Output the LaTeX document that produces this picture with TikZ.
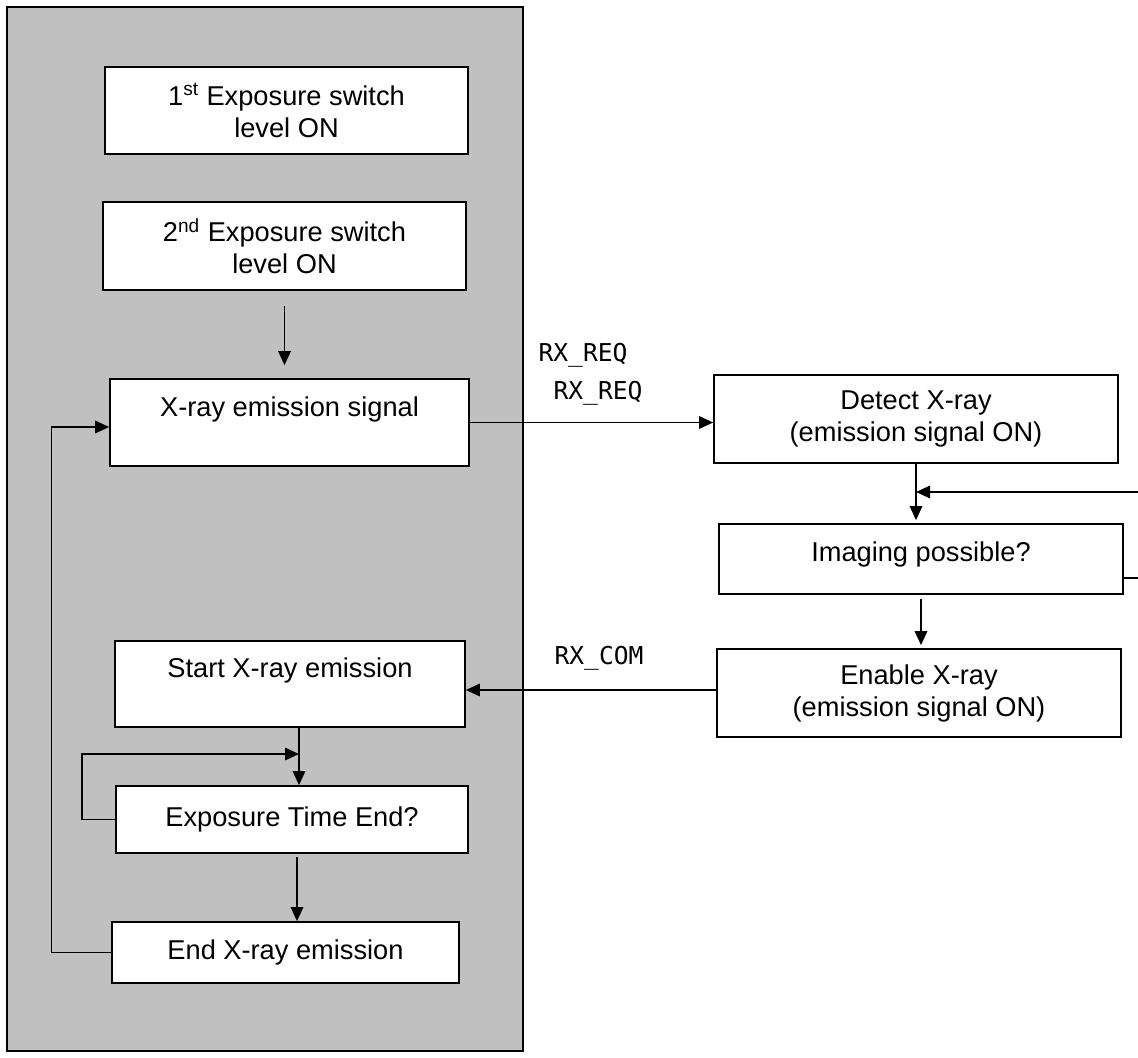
\documentclass[tikz,border=0pt]{standalone}
\usepackage{fontspec}
\setmainfont{Liberation Sans}
\newfontfamily\sigfont{DejaVu Sans Mono}
\usepackage{tikz}
\usetikzlibrary{arrows.meta}
\definecolor{panelgray}{RGB}{192,192,192}

\begin{document}
\begin{tikzpicture}[x=0.02cm, y=-0.02cm,
  box/.style={draw, line width=1pt, fill=white, align=center, inner sep=0pt,
    font=\fontsize{15.5}{18.2}\selectfont},
  siglabel/.style={font=\sigfont\fontsize{14}{16}\selectfont},
  flow/.style={line width=0.9pt, -{Triangle[length=0.28cm, width=0.25cm]}}]
  \useasboundingbox (0,0) rectangle (1138,1057);
  \clip (0,0) rectangle (1138,1057);
  % generator side
  \draw[line width=1pt, fill=panelgray] (7,7) rectangle (523,1051);
  \node[box, minimum width=7.26cm, minimum height=1.74cm] (sw1) at (286.5,110.5) {1\textsuperscript{st} Exposure switch\\level ON};
  \node[box, minimum width=7.26cm, minimum height=1.76cm] (sw2) at (284.5,246) {2\textsuperscript{nd} Exposure switch\\level ON};
  \node[box, minimum width=7.18cm, minimum height=1.74cm] (emit) at (289.5,422.5) {X-ray emission signal\\~};
  \node[box, minimum width=7.0cm, minimum height=1.72cm] (start) at (290,684) {Start X-ray emission\\~};
  \node[box, minimum width=7.04cm, minimum height=1.34cm] (expend) at (292,819.5) {Exposure Time End?};
  \node[box, minimum width=6.94cm, minimum height=1.22cm] (endx) at (285.5,952.5) {End X-ray emission};
  % detector side
  \node[box, minimum width=8.08cm, minimum height=1.76cm] (detect) at (916,419) {Detect X-ray\\(emission signal ON)};
  \node[box, minimum width=8.08cm, minimum height=1.4cm, text depth=0.3cm] (imaging) at (921,559) {Imaging possible?};
  \node[box, minimum width=8.08cm, minimum height=1.76cm] (enable) at (919,693) {Enable X-ray\\(emission signal ON)};
  \node[siglabel] (req1) at (583,355) {RX\_REQ};
  \node[siglabel] (req2) at (598,393) {RX\_REQ};
  \node[siglabel] (com) at (599,658) {RX\_COM};
  \coordinate (rjoin) at (916,492);
  \coordinate (sloop) at (299,754);
  \draw[flow, shorten <=0.3cm, shorten >=0.26cm] (sw2.south) -- (sw2.south |- emit.north);
  \draw[flow] (emit.east) -- (emit.east -| detect.west);
  \draw[flow, shorten >=0.06cm] (detect.south) -- (detect.south |- imaging.north);
  \draw[flow] ([yshift=-0.38cm]imaging.east) -- ++(40,0) |- (rjoin);
  \draw[flow, shorten <=0.08cm, shorten >=0.06cm] (imaging.south) -- (imaging.south |- enable.north);
  \draw[flow] ([yshift=0.06cm]enable.west) -- ([yshift=0.06cm]enable.west -| start.east);
  \draw[flow] (start.south -| sloop) -- (expend.north -| sloop);
  \draw[flow] (expend.west) -- ++(-33,0) |- (sloop);
  \draw[flow, shorten <=0.06cm] ([xshift=0.1cm]expend.south) -- ([xshift=0.1cm]expend.south |- endx.north);
  \draw[flow] (endx.west) -- ++(-59.5,0) |- ([yshift=-0.09cm]emit.west);
\end{tikzpicture}
\end{document}
